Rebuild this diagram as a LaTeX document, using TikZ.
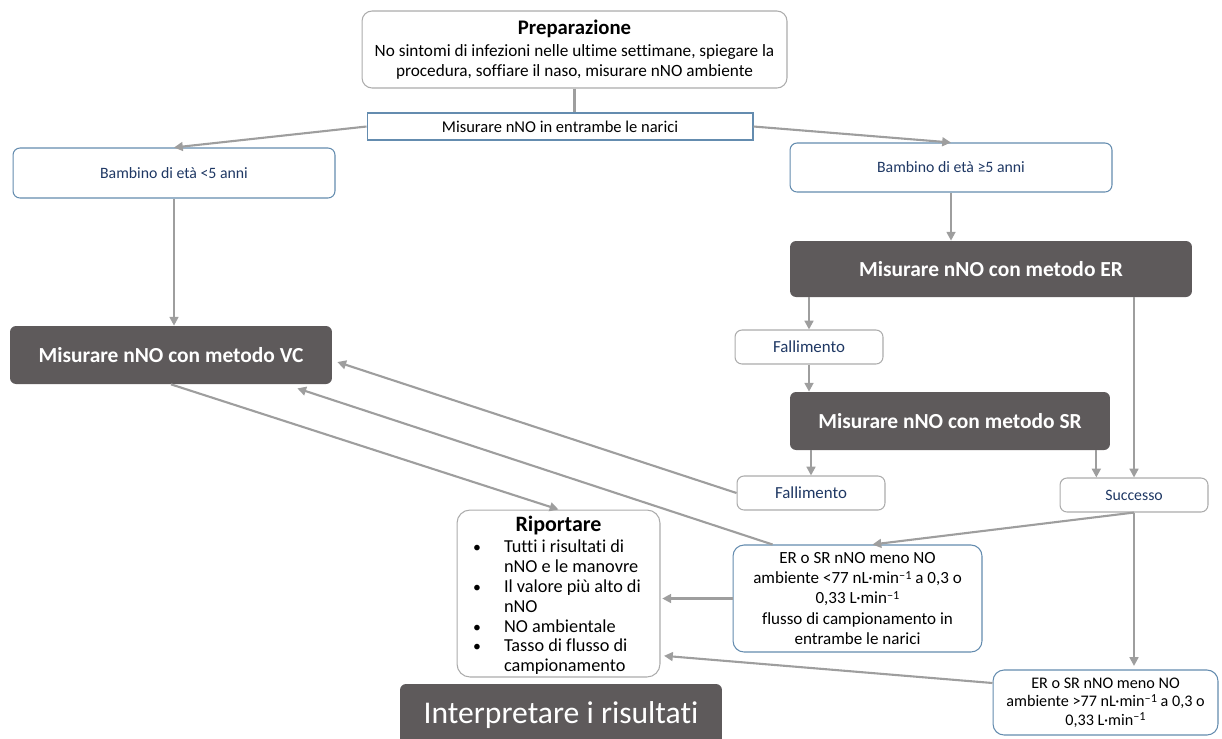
\documentclass[tikz,border=0pt]{standalone}
\usepackage{fontspec}
\setmainfont{Carlito}[Ligatures=NoCommon]
\usepackage{xcolor}
\usetikzlibrary{arrows.meta}

\definecolor{darkfill}{RGB}{94,90,91}
\definecolor{linegray}{RGB}{158,158,158}
\definecolor{boxgray}{RGB}{172,172,172}
\definecolor{boxblue}{RGB}{100,140,175}
\definecolor{navytext}{RGB}{31,56,100}

\tikzset{
  plainbox/.style={draw=boxgray, line width=0.6pt, rounded corners=0.2cm, fill=white,
    align=center, inner sep=0pt, font=\fontsize{9.8}{11.4}\selectfont},
  bluebox/.style={draw=boxblue, line width=0.6pt, rounded corners=0.14cm, fill=white,
    align=center, inner sep=0pt, text=navytext, font=\fontsize{9}{11}\selectfont},
  darkbox/.style={fill=darkfill, rounded corners=0.12cm, text=white, align=center,
    inner sep=0pt, font=\fontsize{12.2}{14}\selectfont\bfseries},
  flow/.style={draw=linegray, line width=1.2pt,
    -{Triangle[length=5pt,width=5pt]}},
}

\begin{document}
\begin{tikzpicture}[x=0.02cm,y=-0.02cm]
\useasboundingbox (0,0) rectangle (1222,738);

% Preparation and both nostrils
\node[plainbox, minimum width=8.5cm, minimum height=1.54cm] (prep) at (574.5,49.5)
  {{\fontsize{11.8}{14}\selectfont\bfseries Preparazione}\\[1pt]
   No sintomi di infezioni nelle ultime settimane, spiegare la\\
   procedura, soffiare il naso, misurare nNO ambiente};
\node[bluebox, rounded corners=0pt, text=black, minimum width=7.72cm, minimum height=0.54cm,
  font=\fontsize{9.4}{11}\selectfont] (narici) at (560,126.5) {Misurare nNO in entrambe le narici};

% Age groups
\node[bluebox, minimum width=6.44cm, minimum height=1cm] (young) at (174,173) {Bambino di età <5 anni};
\node[bluebox, minimum width=6.44cm, minimum height=0.98cm] (old) at (951,167.5) {Bambino di età ≥5 anni};

% Methods
\node[darkbox, minimum width=8.04cm, minimum height=1.12cm] (er) at (991,269) {Misurare nNO con metodo ER};
\node[darkbox, minimum width=6.44cm, minimum height=1.16cm] (vc) at (171,355) {Misurare nNO con metodo VC};
\node[darkbox, minimum width=6.4cm, minimum height=1.16cm] (sr) at (950,421) {Misurare nNO con metodo SR};

% Outcomes
\node[bluebox, draw=boxgray, font=\fontsize{9.6}{11}\selectfont, minimum width=2.96cm, minimum height=0.68cm] (fail1) at (809,347) {Fallimento};
\node[bluebox, draw=boxgray, font=\fontsize{9.6}{11}\selectfont, minimum width=2.96cm, minimum height=0.68cm] (fail2) at (811,493) {Fallimento};
\node[bluebox, draw=boxgray, minimum width=2.96cm, minimum height=0.68cm] (succ) at (1134,495) {Successo};

% Results
\node[bluebox, rounded corners=0.22cm, text=black, font=\fontsize{9.7}{11.4}\selectfont,
  minimum width=4.98cm, minimum height=2.14cm] (low) at (857.5,598.5)
  {ER o SR nNO meno NO\\ ambiente <77 nL·min{\fontsize{7}{7}\selectfont\raisebox{0.35em}{–1}} a 0,3 o\\
   0,33 L·min{\fontsize{7}{7}\selectfont\raisebox{0.35em}{–1}}\\
   flusso di campionamento in\\ entrambe le narici};
\node[bluebox, rounded corners=0.22cm, text=black, font=\fontsize{9.2}{10.5}\selectfont,
  minimum width=4.5cm, minimum height=1.3cm] (high) at (1105.5,702.5)
  {ER o SR nNO meno NO\\ ambiente >77 nL·min{\fontsize{7}{7}\selectfont\raisebox{0.35em}{–1}} a 0,3 o\\
   0,33 L·min{\fontsize{7}{7}\selectfont\raisebox{0.35em}{–1}}};

% Report and interpretation
\node[plainbox, rounded corners=0.26cm, font=\fontsize{10.4}{11.3}\selectfont,
  minimum width=4.06cm, minimum height=3.34cm] (rep) at (558.5,593.5)
  {{\fontsize{12.5}{14}\selectfont\bfseries Riportare}\\[1pt]
   \begin{tabular}{@{}p{0.62cm}@{}p{2.8cm}@{}}
   {\small\textbullet} & Tutti i risultati di\\
                       & nNO e le manovre\\
   {\small\textbullet} & Il valore più alto di\\
                       & nNO\\
   {\small\textbullet} & NO ambientale\\
   {\small\textbullet} & Tasso di flusso di\\
                       & campionamento
   \end{tabular}\\[-5pt]\mbox{}};
\node[darkbox, font=\fontsize{18}{20}\selectfont, minimum width=6.44cm, minimum height=1.24cm] (interp) at (561,715)
  {Interpretare i risultati};

% Connectors
\coordinate (srout) at ([xshift=-0.28cm]sr.south east);
\coordinate (vctip) at ([xshift=0.1cm,yshift=-0.14cm]vc.east);
\coordinate (vclow) at ([xshift=-0.7cm,yshift=-0.08cm]vc.south east);
\coordinate (lowin) at ([xshift=0.8cm]low.north west);

\draw[draw=linegray, line width=1.2pt] (prep.south) -- (prep.south |- narici.north);
\draw[flow] (narici.west) -- (young.north);
\draw[flow] (narici.east) -- (old.north);
\draw[flow] (young.south) -- (young.south |- vc.north);
\draw[flow] (old.south) -- (old.south |- er.north);
\draw[flow] (fail1.north |- er.south) -- (fail1.north);
\draw[flow] (fail1.south) -- (fail1.south |- sr.north);
\draw[flow] (fail2.north |- sr.south) -- (fail2.north);
\draw[flow] (srout) -- (srout |- succ.north);
\draw[flow] (succ.north |- er.south) -- (succ.north);
\draw[flow] (vc.south) -- (rep.north);
\draw[flow] (fail2.west) -- (vctip);
\draw[flow] (lowin) -- (vclow);
\draw[flow] (succ.south) -- ([xshift=0.3cm]low.north);
\draw[flow, shorten >=2pt] (succ.south) -- (succ.south |- high.north);
\draw[flow, shorten >=1pt] (low.west) -- (low.west -| rep.east);
\draw[flow, shorten >=2pt] ([yshift=0.39cm]high.west) -- ([yshift=0.44cm]rep.south east);
\end{tikzpicture}
\end{document}
